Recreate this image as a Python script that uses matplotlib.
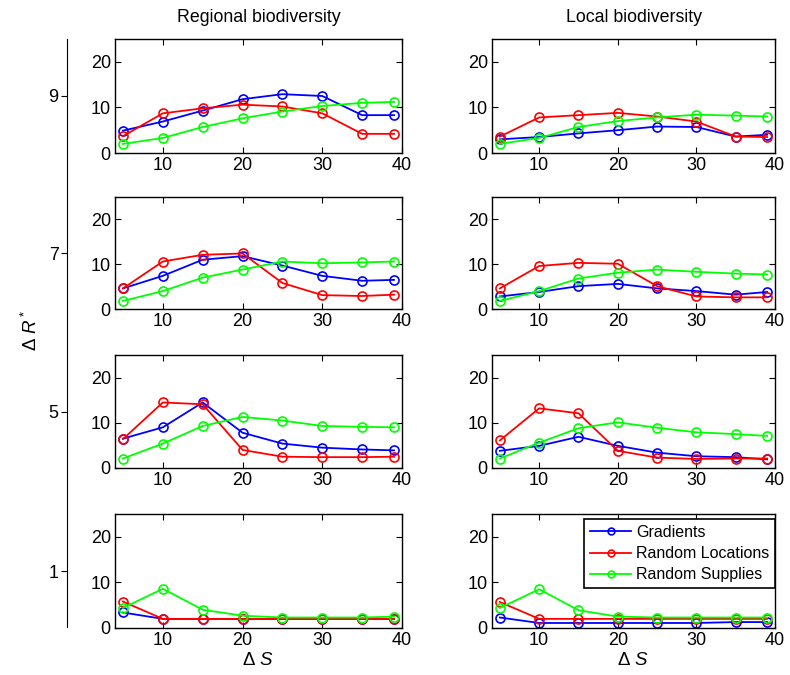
import numpy as np
import matplotlib.pyplot as plt

plt.rcParams['font.family'] = ['Liberation Sans', 'DejaVu Sans']
plt.rcParams['mathtext.fontset'] = 'custom'
plt.rcParams['mathtext.rm'] = 'Liberation Sans'
plt.rcParams['mathtext.it'] = 'Liberation Sans:italic'

# ---- data ----
dS = [5, 10, 15, 20, 25, 30, 35, 39]
R_levels = [9, 7, 5, 1]
columns = ['Regional biodiversity', 'Local biodiversity']
series = ['Gradients', 'Random Locations', 'Random Supplies']

# regional, rows R*=9,7,5,1
reg_grad = [
    [4.9, 6.9, 9.3, 11.8, 12.9, 12.5, 8.3, 8.3],
    [4.6, 7.4, 11.0, 11.8, 9.7, 7.4, 6.3, 6.5],
    [6.5, 9.0, 14.5, 7.8, 5.4, 4.5, 4.1, 3.9],
    [3.4, 2.0, 2.0, 2.0, 2.0, 2.0, 2.0, 2.0],
]
reg_loc = [
    [3.7, 8.7, 9.8, 10.6, 10.2, 8.7, 4.2, 4.2],
    [4.6, 10.6, 12.1, 12.4, 5.8, 3.1, 2.9, 3.2],
    [6.4, 14.5, 14.1, 4.0, 2.5, 2.4, 2.4, 2.5],
    [5.8, 2.0, 2.0, 2.0, 2.0, 2.0, 2.0, 2.0],
]
reg_sup = [
    [2.0, 3.3, 5.7, 7.6, 9.1, 10.3, 11.0, 11.2],
    [1.8, 4.0, 7.0, 8.8, 10.6, 10.2, 10.4, 10.6],
    [2.1, 5.4, 9.3, 11.3, 10.5, 9.3, 9.1, 9.0],
    [4.4, 8.6, 4.0, 2.7, 2.3, 2.3, 2.3, 2.5],
]
# local
loc_grad = [
    [3.0, 3.5, 4.3, 5.0, 5.8, 5.7, 3.6, 4.0],
    [2.8, 3.8, 5.1, 5.6, 4.6, 4.0, 3.2, 3.8],
    [3.8, 4.9, 6.9, 4.9, 3.4, 2.6, 2.4, 1.9],
    [2.3, 1.1, 1.1, 1.1, 1.1, 1.1, 1.3, 1.3],
]
loc_loc = [
    [3.6, 7.8, 8.3, 8.8, 8.0, 6.9, 3.6, 3.5],
    [4.6, 9.6, 10.3, 10.1, 5.1, 2.8, 2.6, 2.6],
    [6.1, 13.2, 12.1, 3.8, 2.3, 2.0, 2.1, 2.1],
    [5.7, 2.0, 2.0, 2.0, 2.0, 2.0, 2.0, 2.0],
]
loc_sup = [
    [2.0, 3.3, 5.7, 7.0, 7.8, 8.4, 8.2, 8.0],
    [1.8, 4.0, 6.8, 8.1, 8.8, 8.3, 7.9, 7.7],
    [2.1, 5.6, 8.8, 10.1, 8.9, 7.9, 7.5, 7.1],
    [4.4, 8.5, 3.9, 2.5, 2.3, 2.3, 2.3, 2.3],
]
data = [[reg_grad, reg_loc, reg_sup], [loc_grad, loc_loc, loc_sup]]
colors = ['#0000ff', '#ff0000', '#00ff00']

W, H = 790, 675
fig = plt.figure(figsize=(W / 100, H / 100), dpi=100)

# pixel boxes (left, right) per column, (top, bottom) per row
col_x = [(115, 402), (492, 775)]
row_y = [(39, 153), (197, 309), (355, 468), (514, 628)]

for c in range(2):
    for r in range(4):
        x0, x1 = col_x[c]
        y0, y1 = row_y[r]
        ax = fig.add_axes([x0 / W, 1 - y1 / H, (x1 - x0) / W, (y1 - y0) / H])
        for k in range(3):
            ax.plot(dS, data[c][k][r], '-o', color=colors[k], lw=1.3,
                    ms=6.5, mfc='none', mew=1.2, label=series[k])
        ax.set_xlim(4, 40)
        ax.set_ylim(0, 25)
        ax.set_xticks([10, 20, 30, 40])
        ax.set_yticks([0, 10, 20])
        ax.tick_params(direction='in', top=True, right=True, labelsize=13,
                       length=4, width=0.8, pad=3)
        for s in ax.spines.values():
            s.set_linewidth(1.0)
        if r == 0:
            ax.set_title(columns[c], fontsize=12.8, pad=12)
        if r == 3:
            ax.set_xlabel(r'$\Delta$ $S$', fontsize=13.5, labelpad=2)
        if c == 1 and r == 3:
            leg = ax.legend(loc='upper right', fontsize=11.5, fancybox=False,
                            edgecolor='black', framealpha=1, borderpad=0.35,
                            handlelength=2.6, handletextpad=0.3, labelspacing=0.4,
                            markerscale=0.75, borderaxespad=0.0,
                            bbox_to_anchor=(1.0, 0.955))
            leg.get_frame().set_linewidth(1.2)

# outer R* axis
centers = [1 - (a + b) / 2 / H for a, b in row_y]
big = fig.add_axes([67 / W, 0, 0.001, 1])
big.set_ylim(0, 1)
big.set_xlim(0, 1)
big.patch.set_visible(False)
for s in ['top', 'right', 'bottom']:
    big.spines[s].set_visible(False)
big.spines['left'].set_bounds(1 - 627 / H, 1 - 39 / H)
big.set_xticks([])
big.set_yticks(centers)
big.set_yticklabels([str(v) for v in R_levels])
big.tick_params(axis='y', direction='out', length=4, labelsize=13, pad=2)
fig.text(31 / W, 1 - 330 / H, r'$\Delta$ $R^*$', rotation=90, fontsize=13.5,
         ha='center', va='center')

fig.savefig('out.png', dpi=100)
